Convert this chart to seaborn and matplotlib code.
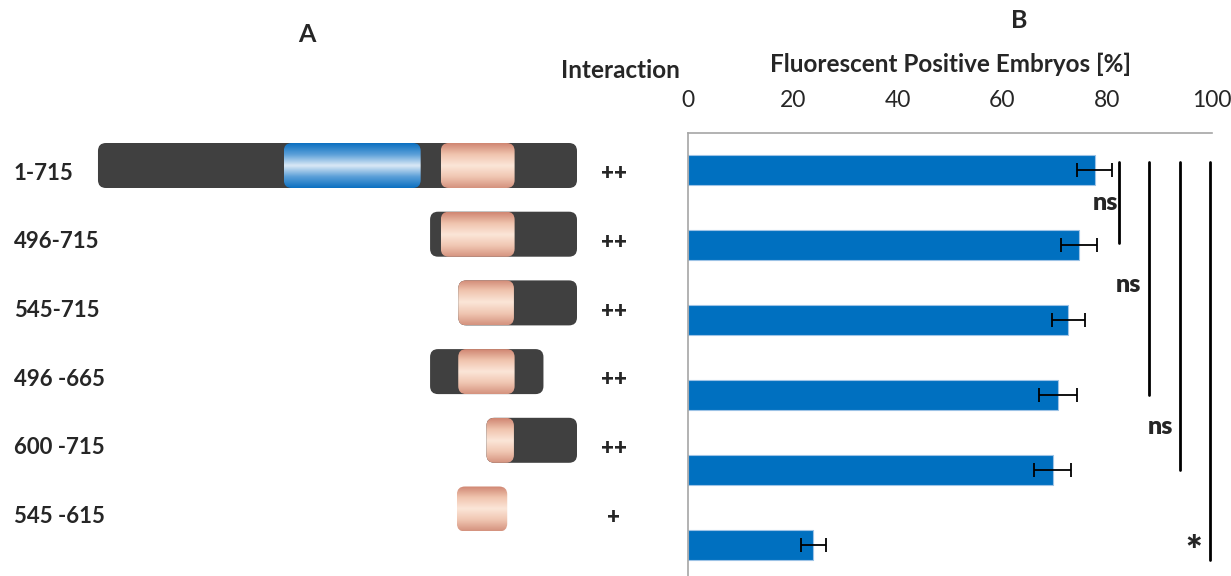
import numpy as np
import pandas as pd
import seaborn as sns
import matplotlib.pyplot as plt
from matplotlib.patches import FancyBboxPatch
from matplotlib.colors import LinearSegmentedColormap
import matplotlib.transforms as mtransforms

# Panel A: constructs (residue ranges) and interaction scores
constructs = ['1-715', '496-715', '545-715', '496 -665', '600 -715', '545 -615']
starts = [1, 496, 545, 496, 600, 545]
ends = [715, 715, 715, 665, 715, 615]
interaction = ['++', '++', '++', '++', '++', '+']
blue_domain = (278, 482)
# pink domain as drawn in each construct (schematic)
pink_start = [512, 512, 538, 538, 580, 536]
pink_end = [622, 622, 621, 622, 621, 611]

# Panel B: fluorescent positive embryos [%]
percent = [77.6, 74.6, 72.6, 70.6, 69.6, 23.9]
err = [3.4, 3.4, 3.1, 3.6, 3.5, 2.4]
sig_x = [82.3, 88.0, 93.8, 99.7]
sig_from = [-0.1, -0.1, -0.1, -0.1]
sig_to = [0.97, 3.0, 4.0, 5.2]
sig_text = ['ns', 'ns', 'ns', '*']
sig_text_x = [79.7, 84.0, 90.2, 96.6]
sig_text_y = [0.44, 1.53, 3.43, 5.1]

df = pd.DataFrame({'construct': constructs, 'percent': percent})

sns.set_style('white')
plt.rcParams['font.family'] = ['Lato', 'DejaVu Sans']

W, H = 1231, 576
fig = plt.figure(figsize=(W / 100, H / 100), dpi=100)

# ---- Panel A ----
axA = fig.add_axes([0, 0, 660 / W, 1])
axA.axis('off')
px_per_res = 0.6709
row_px = 68.7
first_row = 165.5
xlim_a = (715 - 577 / px_per_res, 715 + 83 / px_per_res)
ylim_a = ((H - first_row) / row_px, -first_row / row_px)
box_h = 45 / row_px
rad = 8 / px_per_res
asp = (8 / row_px) / rad

dark = '#404040'
pink_cmap = LinearSegmentedColormap.from_list('pink', ['#cf8571', '#f0c4ae', '#fbe6d8', '#f0c6b2', '#d4927e'])
blue_cmap = LinearSegmentedColormap.from_list('blue', ['#0a6fc0', '#5a9fd8', '#dbe9f6', '#5a9fd8', '#0a6fc0'])
grad = np.linspace(0, 1, 256).reshape(-1, 1)


def rounded(ax, x0, x1, yc, **kw):
    p = FancyBboxPatch((x0, yc - box_h / 2), x1 - x0, box_h,
                       boxstyle=f'round,pad=0,rounding_size={rad}',
                       mutation_aspect=asp, **kw)
    ax.add_patch(p)
    return p


def gradient_box(ax, x0, x1, yc, cmap):
    p = rounded(ax, x0, x1, yc, facecolor='none', edgecolor='none')
    im = ax.imshow(grad, cmap=cmap, aspect='auto', interpolation='bicubic',
                   extent=(x0, x1, yc + box_h / 2, yc - box_h / 2), zorder=3)
    im.set_clip_path(p)


for i, (s, e) in enumerate(zip(starts, ends)):
    p0, p1 = pink_start[i], pink_end[i]
    if e > p1 + 10 or s < p0 - 10:
        rounded(axA, min(s, p0), e, i, facecolor=dark, edgecolor='none', zorder=2)
    if s <= blue_domain[0] and e >= blue_domain[1]:
        gradient_box(axA, blue_domain[0], blue_domain[1], i, blue_cmap)
    gradient_box(axA, p0, p1, i, pink_cmap)

axA.set_xlim(*xlim_a)
axA.set_ylim(*ylim_a)

trA = mtransforms.blended_transform_factory(axA.transAxes, axA.transData)
for i, (lab, inter) in enumerate(zip(constructs, interaction)):
    axA.text(14 / 660, i + 0.11, lab, transform=trA, ha='left', va='center',
             fontsize=16, fontweight='bold')
    axA.text(614 / 660, i + 0.12, inter, transform=trA, ha='center', va='center',
             fontsize=16, fontweight='heavy')

fig.text(307 / W, 1 - 34 / H, 'A', ha='center', va='center', fontsize=18, fontweight='bold')
fig.text(620 / W, 1 - 71 / H, 'Interaction', ha='center', va='center', fontsize=17.5, fontweight='bold')
fig.text(1019 / W, 1 - 20 / H, 'B', ha='center', va='center', fontsize=18, fontweight='bold')

# ---- Panel B ----
axB = fig.add_axes([688 / W, 0, 524 / W, 443 / H])
sns.barplot(data=df, x='percent', y='construct', orient='h', color='#0070c0',
            width=0.4, saturation=1, edgecolor='#9dc3e6', linewidth=0.8, ax=axB)
axB.errorbar(percent, np.arange(len(percent)), xerr=err, fmt='none',
             ecolor='black', elinewidth=1.3, capsize=5, capthick=1.3, zorder=4)

for x, y0, y1, t, tx, ty in zip(sig_x, sig_from, sig_to, sig_text, sig_text_x, sig_text_y):
    axB.plot([x, x], [y0, y1], color='black', lw=2, clip_on=False, zorder=4)
    axB.text(tx, ty, t, ha='center', va='center', fontsize=18 if t != '*' else 28,
             fontweight='heavy')

axB.set_xlim(0, 100)
axB.set_ylim(5.413, -0.493)
axB.set_xticks([0, 20, 40, 60, 80, 100])
axB.xaxis.tick_top()
axB.xaxis.set_label_position('top')
axB.tick_params(axis='x', length=0, pad=16, labelsize=16.5)
axB.set_yticks([])
axB.set_ylabel('')
axB.set_xlabel('Fluorescent Positive Embryos [%]', fontsize=17.5, fontweight='bold', labelpad=13)
for side in ['right', 'bottom']:
    axB.spines[side].set_visible(False)
for side in ['top', 'left']:
    axB.spines[side].set_color('#a6a6a6')
    axB.spines[side].set_linewidth(1.2)

fig.savefig('out.png', dpi=100)
